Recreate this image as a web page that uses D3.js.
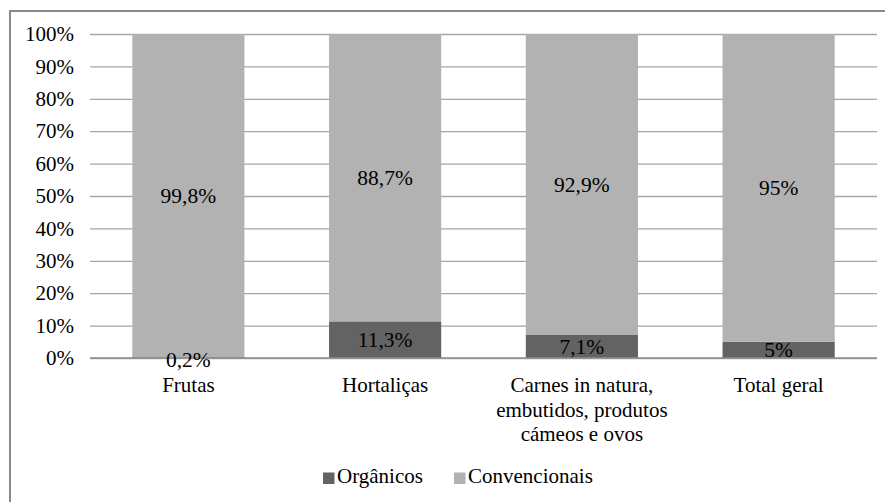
<!DOCTYPE html>
<html>
<head>
<meta charset="utf-8">
<script src="https://cdn.jsdelivr.net/npm/d3@7"></script>
<style>
  body { margin: 0; background: #fff; }
  svg text { font-family: "Liberation Serif", "Times New Roman", serif; fill: #000; }
</style>
</head>
<body>
<svg id="chart" width="885" height="502"></svg>
<script>
  // data
  var categories = [
    ["Frutas"],
    ["Hortaliças"],
    ["Carnes in natura,", "embutidos, produtos", "cámeos e ovos"],
    ["Total geral"]
  ];
  var organicos = [0.2, 11.3, 7.1, 5];
  var convencionais = [99.8, 88.7, 92.9, 95];
  var organicosLabels = ["0,2%", "11,3%", "7,1%", "5%"];
  var convencionaisLabels = ["99,8%", "88,7%", "92,9%", "95%"];
  var yTicks = [0, 10, 20, 30, 40, 50, 60, 70, 80, 90, 100];
  var seriesNames = ["Orgânicos", "Convencionais"];
  var seriesColors = ["#636363", "#b2b2b2"];

  var FONT = "'Liberation Serif', 'Times New Roman', serif";
  var svg = d3.select("#chart");

  // outer frame (only top and left edges fall inside the picture)
  svg.append("rect")
    .attr("x", 10).attr("y", 11)
    .attr("width", 890).attr("height", 500)
    .attr("fill", "none")
    .attr("stroke", "#8a8a8a")
    .attr("stroke-width", 2);

  var plotLeft = 90, plotRight = 877, plotTop = 34, plotBottom = 358;
  var idx = d3.range(categories.length);

  var x = d3.scaleBand().domain(idx).range([plotLeft, plotRight]).paddingInner(0.43).paddingOuter(0.215);
  var y = d3.scaleLinear().domain([0, 100]).range([plotBottom, plotTop]);

  // gridlines + tick labels
  var yAxis = d3.axisLeft(y).tickValues(yTicks).tickSize(-(plotRight - plotLeft)).tickFormat(function(d) { return d + "%"; });
  var gy = svg.append("g").attr("transform", "translate(" + plotLeft + ",0)").call(yAxis);
  gy.attr("font-family", null).attr("font-size", null);
  gy.select(".domain").remove();
  gy.selectAll(".tick line").attr("stroke", "#a6a6a6").attr("stroke-width", 1.3);
  gy.selectAll(".tick text")
    .attr("x", -16)
    .style("font-size", "21px")
    .style("font-family", FONT);

  // stacked bars
  var segs = [];
  idx.forEach(function(i) {
    segs.push({ i: i, y0: 0, y1: organicos[i], label: organicosLabels[i], s: 0 });
    segs.push({ i: i, y0: organicos[i], y1: organicos[i] + convencionais[i], label: convencionaisLabels[i], s: 1 });
  });

  svg.append("g").selectAll("rect")
    .data(segs)
    .enter().append("rect")
    .attr("x", function(d) { return x(d.i); })
    .attr("width", x.bandwidth())
    .attr("y", function(d) { return y(d.y1); })
    .attr("height", function(d) { return y(d.y0) - y(d.y1); })
    .attr("fill", function(d) { return seriesColors[d.s]; });

  // baseline
  svg.append("line")
    .attr("x1", plotLeft).attr("x2", plotRight)
    .attr("y1", y(0)).attr("y2", y(0))
    .attr("stroke", "#8c8c8c").attr("stroke-width", 1.3);

  // data labels
  svg.append("g").selectAll("text")
    .data(segs)
    .enter().append("text")
    .attr("x", function(d) { return x(d.i) + x.bandwidth() / 2; })
    .attr("y", function(d) {
      var mid = (y(d.y0) + y(d.y1)) / 2;
      return d.s === 0 && d.y1 < 3 ? y(0) + 1 : mid;
    })
    .attr("dy", "0.35em")
    .attr("text-anchor", "middle")
    .style("font-family", FONT)
    .style("font-size", "21.5px")
    .text(function(d) { return d.label; });

  // category labels
  var cat = svg.append("g").selectAll("text")
    .data(idx)
    .enter().append("text")
    .attr("text-anchor", "middle")
    .style("font-family", FONT)
    .style("font-size", "21px");
  cat.each(function(i) {
    var t = d3.select(this);
    categories[i].forEach(function(line, k) {
      t.append("tspan")
        .attr("x", x(i) + x.bandwidth() / 2)
        .attr("y", 385 + k * 24.5)
        .attr("dy", "0.35em")
        .text(line);
    });
  });

  // legend
  var legendX = [323, 454];
  var lg = svg.append("g").selectAll("g")
    .data(seriesNames)
    .enter().append("g")
    .attr("transform", function(d, k) { return "translate(" + legendX[k] + ",478)"; });
  lg.append("rect")
    .attr("x", 0).attr("y", -5.5)
    .attr("width", 11.5).attr("height", 11.5)
    .attr("fill", function(d, k) { return seriesColors[k]; });
  lg.append("text")
    .attr("x", 14)
    .attr("y", -2)
    .attr("dy", "0.35em")
    .style("font-family", FONT)
    .style("font-size", "21px")
    .text(function(d) { return d; });
</script>
</body>
</html>
